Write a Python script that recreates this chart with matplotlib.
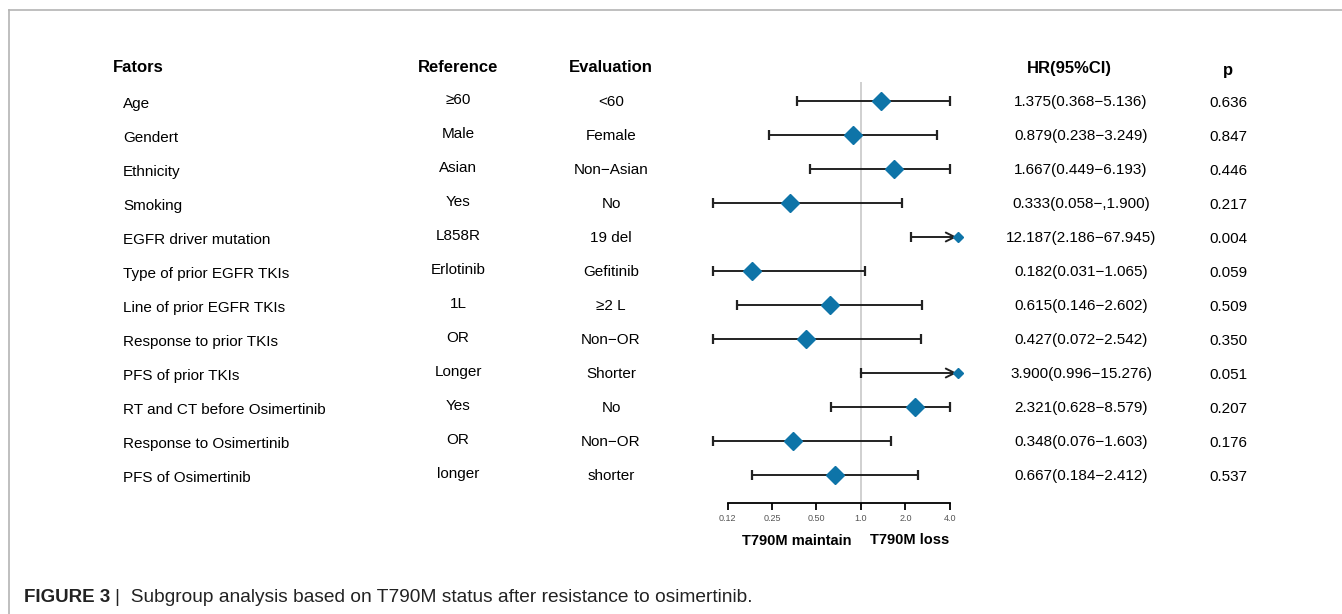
import numpy as np
import matplotlib
matplotlib.use('Agg')
import matplotlib.pyplot as plt
from matplotlib import font_manager
from matplotlib.lines import Line2D
from matplotlib.transforms import blended_transform_factory

plt.rcParams['font.family'] = ['Liberation Sans', 'DejaVu Sans']

# data
factors = ['Age', 'Gendert', 'Ethnicity', 'Smoking', 'EGFR driver mutation',
           'Type of prior EGFR TKIs', 'Line of prior EGFR TKIs',
           'Response to prior TKIs', 'PFS of prior TKIs',
           'RT and CT before Osimertinib', 'Response to Osimertinib',
           'PFS of Osimertinib']
reference = ['≥60', 'Male', 'Asian', 'Yes', 'L858R', 'Erlotinib', '1L', 'OR',
             'Longer', 'Yes', 'OR', 'longer']
evaluation = ['<60', 'Female', 'Non−Asian', 'No', '19 del', 'Gefitinib', '≥2 L',
              'Non−OR', 'Shorter', 'No', 'Non−OR', 'shorter']
hr = [1.375, 0.879, 1.667, 0.333, 12.187, 0.182, 0.615, 0.427, 3.900, 2.321, 0.348, 0.667]
lower = [0.368, 0.238, 0.449, 0.058, 2.186, 0.031, 0.146, 0.072, 0.996, 0.628, 0.076, 0.184]
upper = [5.136, 3.249, 6.193, 1.900, 67.945, 1.065, 2.602, 2.542, 15.276, 8.579, 1.603, 2.412]
hr_text = ['1.375(0.368−5.136)', '0.879(0.238−3.249)', '1.667(0.449−6.193)',
           '0.333(0.058−,1.900)', '12.187(2.186−67.945)', '0.182(0.031−1.065)',
           '0.615(0.146−2.602)', '0.427(0.072−2.542)', '3.900(0.996−15.276)',
           '2.321(0.628−8.579)', '0.348(0.076−1.603)', '0.667(0.184−2.412)']
pvals = ['0.636', '0.847', '0.446', '0.217', '0.004', '0.059', '0.509', '0.350',
         '0.051', '0.207', '0.176', '0.537']
ticks = [0.125, 0.25, 0.5, 1.0, 2.0, 4.0]
tick_labels = ['0.12', '0.25', '0.50', '1.0', '2.0', '4.0']

W, H = 1342, 614
fig = plt.figure(figsize=(W / 100, H / 100), dpi=100)

# grey frame (top and left)
fig.add_artist(Line2D([9 / W, 1], [1 - 10 / H, 1 - 10 / H], color='#b4b4b4', lw=1.2))
fig.add_artist(Line2D([9 / W, 9 / W], [0, 1 - 10 / H], color='#b4b4b4', lw=1.2))

# forest panel: log2 axis, 1.0 at x=861px, 44.5px per doubling
top_px, bot_px = 82, 503
left_px, right_px = 700, 968
ax = fig.add_axes([left_px / W, 1 - bot_px / H, (right_px - left_px) / W, (bot_px - top_px) / H])
ax.set_xscale('log', base=2)
ax.set_xlim(2 ** ((left_px - 861) / 44.5), 2 ** ((right_px - 861) / 44.5))
row0, step = 101, 34.0
ax.set_ylim((bot_px - row0) / step, (top_px - row0) / step)
for s in ['top', 'right', 'left']:
    ax.spines[s].set_visible(False)
ax.spines['bottom'].set_bounds(ticks[0], ticks[-1])
ax.spines['bottom'].set_linewidth(1.3)
ax.set_yticks([])
ax.set_xticks(ticks)
ax.set_xticklabels(tick_labels)
ax.minorticks_off()
ax.tick_params(axis='x', length=5, width=1.3, labelsize=6.5, labelcolor='#555555', pad=3)
ax.patch.set_alpha(0)
ax.axvline(1.0, color='#c8c8c8', lw=1.2, zorder=0)

blue = '#0e74a8'
lo_clip, hi_clip, arrow_end = 0.1, 4.0, 4.5
for i in range(len(factors)):
    lo = max(lower[i], lo_clip)
    if upper[i] > 10:
        # off-scale interval: arrow with small diamond at the end
        ax.annotate('', xy=(arrow_end - 0.05, i), xytext=(lo, i),
                    arrowprops=dict(arrowstyle='->', color='#222222', lw=1.4,
                                    mutation_scale=16, shrinkA=0, shrinkB=0))
        ax.plot([lo], [i], marker='|', ms=7, mew=1.6, color='#222222')
        ax.plot([arrow_end + 0.05], [i], marker='D', ms=5, color=blue, zorder=4)
    else:
        hi = min(upper[i], hi_clip)
        ax.plot([lo, hi], [i, i], color='#222222', lw=1.4, zorder=2)
        ax.plot([lo, hi], [i, i], ls='none', marker='|', ms=7, mew=1.6, color='#222222')
        ax.plot([hr[i]], [i], marker='D', ms=9.5, color=blue, zorder=4)

# table columns, y in row units
tr = blended_transform_factory(fig.transFigure, ax.transData)
hdr_y = (68 - row0) / step
fig.text(113 / W, hdr_y, 'Fators', transform=tr, fontsize=12, fontweight='bold', va='center')
fig.text(458 / W, hdr_y, 'Reference', transform=tr, fontsize=12, fontweight='bold', va='center', ha='center')
fig.text(611 / W, hdr_y, 'Evaluation', transform=tr, fontsize=12, fontweight='bold', va='center', ha='center')
fig.text(1069 / W, hdr_y, 'HR(95%CI)', transform=tr, fontsize=12, fontweight='bold', va='center', ha='center')
fig.text(1228 / W, (70 - row0) / step, 'p', transform=tr, fontsize=12, fontweight='bold', va='center', ha='center')
for i in range(len(factors)):
    fig.text(123 / W, i + 0.09, factors[i], transform=tr, fontsize=11, va='center')
    fig.text(458 / W, i - 0.02, reference[i], transform=tr, fontsize=11, va='center', ha='center')
    fig.text(611 / W, i + 0.03, evaluation[i], transform=tr, fontsize=11, va='center', ha='center')
    fig.text(1081 / W, i + 0.03, hr_text[i], transform=tr, fontsize=11, va='center', ha='center')
    fig.text(1228 / W, i + 0.06, pvals[i], transform=tr, fontsize=11, va='center', ha='center')

# direction labels under the axis
fig.text(797 / W, 1 - 541 / H, 'T790M maintain', fontsize=10.5, fontweight='bold', ha='center', va='center')
fig.text(910 / W, 1 - 540 / H, 'T790M loss', fontsize=10.5, fontweight='bold', ha='center', va='center')

# caption
names = {f.name for f in font_manager.fontManager.ttflist}
cap_font = ['Liberation Sans Narrow', 'Liberation Sans'] if 'Liberation Sans Narrow' in names else ['Liberation Sans']
t = fig.text(24 / W, 1 - 598 / H, 'FIGURE 3', family=cap_font, fontsize=13.5, fontweight='bold',
             va='center', color='#222222')
fig.canvas.draw()
bb = t.get_window_extent()
fig.text(bb.x1 / W + 5 / W, 1 - 598 / H, '|  Subgroup analysis based on T790M status after resistance to osimertinib.',
         family=cap_font, fontsize=13.8, va='center', color='#222222')

fig.savefig('out.png', dpi=100)
